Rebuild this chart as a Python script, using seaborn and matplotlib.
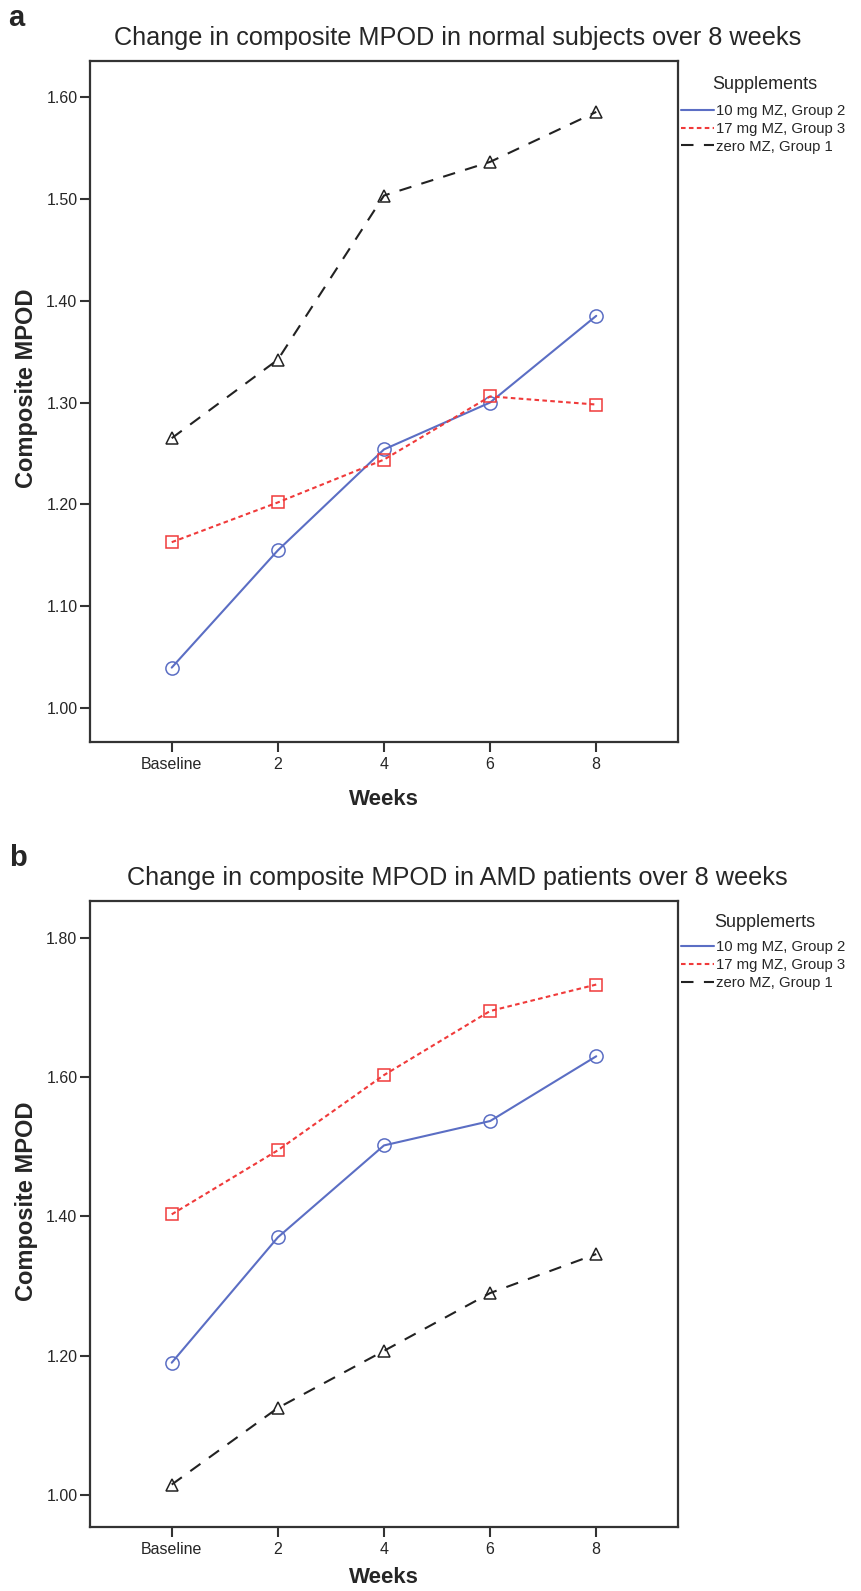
import pandas as pd
import seaborn as sns
import matplotlib.pyplot as plt
from matplotlib.lines import Line2D

# data
weeks = ['Baseline', '2', '4', '6', '8']
groups = ['10 mg MZ, Group 2', '17 mg MZ, Group 3', 'zero MZ, Group 1']

normal_10mg = [1.040, 1.155, 1.254, 1.300, 1.385]
normal_17mg = [1.163, 1.202, 1.244, 1.306, 1.298]
normal_zero = [1.265, 1.342, 1.503, 1.536, 1.585]

amd_10mg = [1.190, 1.370, 1.502, 1.537, 1.630]
amd_17mg = [1.403, 1.495, 1.603, 1.695, 1.733]
amd_zero = [1.015, 1.125, 1.207, 1.290, 1.346]

sns.set_style('ticks')
plt.rcParams['font.family'] = ['Liberation Sans', 'DejaVu Sans']

colors = {groups[0]: '#5b6ec4', groups[1]: '#f03a3a', groups[2]: '#222222'}
dashes = {groups[0]: '', groups[1]: (2.2, 1.6), groups[2]: (6, 5)}
markers = {groups[0]: 'o', groups[1]: 's', groups[2]: '^'}
msizes = {'o': 9.5, 's': 9, '^': 8}


def long_df(s10, s17, s0):
    rows = []
    for g, vals in zip(groups, [s10, s17, s0]):
        for i, v in enumerate(vals):
            rows.append({'week': i, 'MPOD': v, 'Supplements': g})
    return pd.DataFrame(rows)


def draw_panel(ax, df, ylim, yticks, title, letter, legend_title, xlab_pad):
    sns.lineplot(data=df, x='week', y='MPOD', hue='Supplements', style='Supplements',
                 palette=colors, dashes=dashes, markers=markers, markersize=9,
                 markeredgewidth=1.1, linewidth=1.5, legend=False, ax=ax)
    # hollow markers coloured like the lines
    for line in ax.lines:
        line.set_markeredgecolor(line.get_color())
        line.set_markerfacecolor('none')
        m = line.get_marker()
        if m in msizes:
            line.set_markersize(msizes[m])
    ax.set_xlim(-0.77, 4.77)
    ax.set_ylim(*ylim)
    ax.set_xticks(range(len(weeks)))
    ax.set_xticklabels(weeks)
    ax.set_yticks(yticks)
    ax.set_yticklabels([f'{t:.2f}' for t in yticks])
    ax.tick_params(axis='both', labelsize=11.5, length=7, width=1.5, color='#333333')
    ax.tick_params(axis='y', pad=2)
    ax.tick_params(axis='x', pad=4)
    for sp in ax.spines.values():
        sp.set_linewidth(1.6)
        sp.set_color('#333333')
    ax.set_xlabel('Weeks', fontsize=16, fontweight='bold', labelpad=xlab_pad)
    ax.set_ylabel('Composite MPOD', fontsize=17, fontweight='bold')
    ax.yaxis.set_label_coords(-0.088, 0.52)

    pos = ax.get_position()
    fig.text(0.531, pos.y1 + 0.0145, title, ha='center', va='center', fontsize=18.2)
    fig.text(0.01, pos.y1 + 0.027, letter, ha='left', va='center', fontsize=21, fontweight='bold')

    ax.text(1.148, 0.965, legend_title, transform=ax.transAxes, ha='center', va='center',
            fontsize=13)
    handles = [Line2D([], [], color=colors[g], linewidth=1.5,
                      linestyle='-' if dashes[g] == '' else (0, dashes[g])) for g in groups]
    ax.legend(handles, groups, loc='upper left', bbox_to_anchor=(1.006, 0.937),
              frameon=False, fontsize=10.7, handlelength=2.2, handletextpad=0.15,
              labelspacing=0.26, borderaxespad=0, borderpad=0)


fig = plt.figure(figsize=(8.62, 15.91), dpi=100)
ax_a = fig.add_axes([0.1044, 0.5336, 0.6821, 0.4281])
ax_b = fig.add_axes([0.1044, 0.0402, 0.6821, 0.3935])

draw_panel(ax_a, long_df(normal_10mg, normal_17mg, normal_zero), (0.967, 1.635),
           [1.0, 1.1, 1.2, 1.3, 1.4, 1.5, 1.6],
           'Change in composite MPOD in normal subjects over 8 weeks', 'a', 'Supplements', 12)
draw_panel(ax_b, long_df(amd_10mg, amd_17mg, amd_zero), (0.954, 1.853),
           [1.0, 1.2, 1.4, 1.6, 1.8],
           'Change in composite MPOD in AMD patients over 8 weeks', 'b', 'Supplemerts', 7)

fig.savefig('out.png', dpi=100)
